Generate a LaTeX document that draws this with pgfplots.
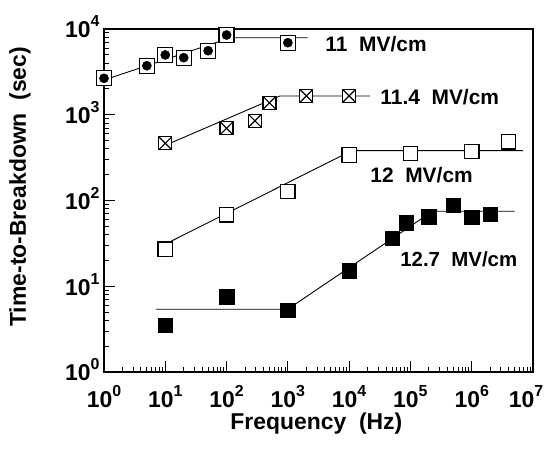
\documentclass[border=0pt]{standalone}
\usepackage{fontspec}
\setmainfont{Liberation Sans}
\usepackage{pgfplots}
\pgfplotsset{compat=1.18}

% 10 with a raised exponent, in the text font
\newcommand{\pw}[1]{10\raisebox{0.48em}{\fontsize{16}{16}\selectfont #1}}

% square with an X inside
\pgfdeclareplotmark{boxx}{%
  \pgfpathrectangle{\pgfpoint{-\pgfplotmarksize}{-\pgfplotmarksize}}{\pgfpoint{2\pgfplotmarksize}{2\pgfplotmarksize}}%
  \pgfusepathqfillstroke
  \pgfpathmoveto{\pgfpoint{-\pgfplotmarksize}{-\pgfplotmarksize}}%
  \pgfpathlineto{\pgfpoint{\pgfplotmarksize}{\pgfplotmarksize}}%
  \pgfpathmoveto{\pgfpoint{-\pgfplotmarksize}{\pgfplotmarksize}}%
  \pgfpathlineto{\pgfpoint{\pgfplotmarksize}{-\pgfplotmarksize}}%
  \pgfusepathqstroke}

\begin{document}
\begin{tikzpicture}
\useasboundingbox (-104bp,-80bp) rectangle (443bp,372bp);
\begin{axis}[
  scale only axis, width=429bp, height=343bp,
  xmode=log, ymode=log, log basis x=10, log basis y=10,
  xmin=1, xmax=1e7, ymin=1, ymax=1e4,
  axis line style={line width=1.2bp},
  every tick/.style={black, line width=0.9bp},
  tick align=inside,
  xtick pos=bottom, ytick pos=left,
  major tick length=11bp, minor tick length=5.5bp,
  ticklabel style={font=\fontsize{23}{23}\selectfont\bfseries},
  xticklabel={\pgfmathtruncatemacro\e{round(\tick)}\ifnum\e=7\hspace*{-14bp}\fi\pw{\e}},
  yticklabel={\pgfmathtruncatemacro\e{round(\tick)}\pw{\e}},
  xticklabel style={yshift=-10bp},
  yticklabel style={xshift=-1bp, yshift=2bp},
  label style={font=\fontsize{23}{23}\selectfont\bfseries},
  xlabel={Frequency\ \ (Hz)},
  ylabel={Time-to-Breakdown\ \ (sec)},
  xlabel style={at={(axis description cs:0.495,-0.15)}, anchor=center},
  ylabel style={at={(axis description cs:-0.196,0.54)}, anchor=center},
  clip=false,
]
% fitted lines
\addplot[black, line width=0.9bp] coordinates {(1,2540) (115,7900) (2100,7900)};
\addplot[black, line width=0.9bp] coordinates {(10,440) (740,1655) (22000,1655)};
\addplot[black, line width=0.9bp] coordinates {(10,31) (11000,381) (6.9e6,381)};
\addplot[black, line width=0.9bp] coordinates {(7,5.4) (1000,5.4) (2.3e5,75) (5e6,75)};

% 11 MV/cm: boxed dots
\addplot[black, only marks, mark=square*, mark size=7.5bp,
  mark options={fill=white, line width=1.2bp}] coordinates {
  (1,2660) (5,3730) (10,4980) (20,4630) (50,5580) (100,8510) (1000,6920)};
\addplot[black, only marks, mark=*, mark size=4.6bp] coordinates {
  (1,2660) (5,3730) (10,4980) (20,4630) (50,5580) (100,8510) (1000,6920)};

% 11.4 MV/cm: boxed crosses
\addplot[black, only marks, mark=boxx, mark size=6.5bp,
  mark options={fill=white, line width=1.2bp}] coordinates {
  (10,464) (100,695) (290,851) (500,1380) (2000,1660) (10000,1660)};

% 12 MV/cm: open squares
\addplot[black, only marks, mark=square*, mark size=7.2bp,
  mark options={fill=white, line width=1.2bp}] coordinates {
  (10,27) (100,68) (1000,127) (10000,340) (1e5,355) (1e6,371) (4e6,485)};

% 12.7 MV/cm: filled squares
\addplot[black, only marks, mark=square*, mark size=7.2bp] coordinates {
  (10,3.53) (100,7.55) (1000,5.28) (1e4,15.2) (5e4,36.2) (8.5e4,55)
  (2e5,64.7) (5e5,88.7) (1e6,63.7) (2e6,69.7)};

\node[anchor=west, font=\fontsize{21}{21}\selectfont\bfseries] at (axis cs:3600,6680) {11\ \ MV/cm};
\node[anchor=west, font=\fontsize{21}{21}\selectfont\bfseries] at (axis cs:28400,1610) {11.4\ \ MV/cm};
\node[anchor=west, font=\fontsize{21}{21}\selectfont\bfseries] at (axis cs:19500,198) {12\ \ MV/cm};
\node[anchor=west, font=\fontsize{20.5}{21}\selectfont\bfseries] at (axis cs:60000,20.8) {12.7\ \ MV/cm};
\end{axis}
\end{tikzpicture}
\end{document}
